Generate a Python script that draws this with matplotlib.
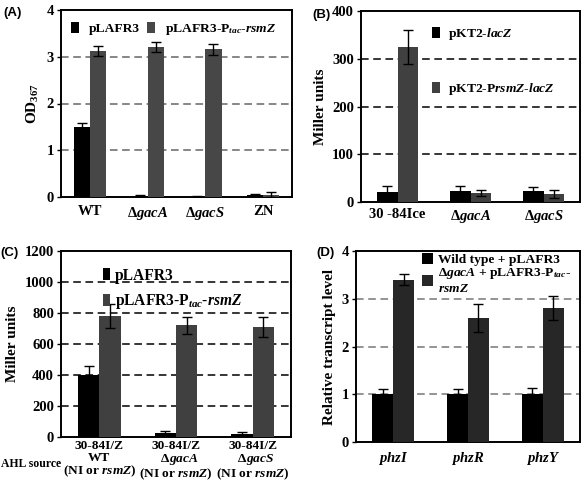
import matplotlib
matplotlib.use("Agg")
import matplotlib.pyplot as plt
import numpy as np

plt.rcParams['font.family'] = ['Liberation Serif', 'DejaVu Serif']
plt.rcParams['font.weight'] = 'bold'
plt.rcParams['axes.labelweight'] = 'bold'
plt.rcParams['mathtext.fontset'] = 'custom'
plt.rcParams['mathtext.rm'] = 'Liberation Serif:bold'
plt.rcParams['mathtext.it'] = 'Liberation Serif:italic:bold'
plt.rcParams['mathtext.bf'] = 'Liberation Serif:bold'

# ---- data ----
a_cats = ['WT', r'Δ$\mathit{gacA}$', r'Δ$\mathit{gacS}$', 'ZN']
a_ctrl = [1.50, 0.03, 0.01, 0.04]
a_ctrl_err = [0.08, 0.02, 0.01, 0.02]
a_rsmz = [3.12, 3.21, 3.16, 0.05]
a_rsmz_err = [0.10, 0.10, 0.12, 0.05]

b_cats = ['30 -84Ice', r'Δ$\mathit{gacA}$', r'Δ$\mathit{gacS}$']
b_lacz = [20, 22, 24]
b_lacz_err = [13, 12, 7]
b_prsmz = [325, 19, 17]
b_prsmz_err = [35, 7, 9]

c_cats = ['30-84I/Z\nWT\n(NI or $\\mathit{rsmZ}$)',
          '30-84I/Z\n  Δ$\\mathit{gacA}$\n(NI or $\\mathit{rsmZ}$)',
          '30-84I/Z\n  Δ$\\mathit{gacS}$\n(NI or $\\mathit{rsmZ}$)']
c_ctrl = [400, 28, 22]
c_ctrl_err = [55, 12, 10]
c_rsmz = [780, 722, 710]
c_rsmz_err = [75, 55, 65]

d_cats = [r'$\mathit{phzI}$', r'$\mathit{phzR}$', r'$\mathit{phzY}$']
d_wt = [1.0, 1.0, 1.0]
d_wt_err = [0.12, 0.10, 0.14]
d_gaca = [3.4, 2.6, 2.8]
d_gaca_err = [0.12, 0.30, 0.25]

W, H = 583, 488
fig = plt.figure(figsize=(W / 100, H / 100), dpi=100)


def box(l, t, r, b):
    return fig.add_axes([l / W, 1 - b / H, (r - l) / W, (b - t) / H])


def draw(ax, cats, v1, e1, v2, e2, c2, ymax, step, gridc, labels, ylabel,
         fs=10.5):
    x = np.arange(len(cats))
    bw = 0.28
    ax.bar(x - bw / 2, v1, bw, color='black', label=labels[0], zorder=3)
    ax.bar(x + bw / 2, v2, bw, color=c2, label=labels[1], zorder=3)
    ax.errorbar(x - bw / 2, v1, yerr=e1, fmt='none', ecolor='black',
                elinewidth=1, capsize=3.5, capthick=1, zorder=4)
    ax.errorbar(x + bw / 2, v2, yerr=e2, fmt='none', ecolor='black',
                elinewidth=1, capsize=3.5, capthick=1, zorder=4)
    ax.set_xlim(-0.5, len(cats) - 0.5)
    ax.set_ylim(0, ymax)
    ticks = np.arange(0, ymax + step / 2, step)
    ax.set_yticks(ticks)
    for t in ticks[1:-1]:
        ax.axhline(t, color=gridc, ls=(0, (5, 3)), lw=1.1, zorder=1)
    ax.set_xticks(x)
    ax.set_xticklabels(cats, fontsize=fs)
    ax.tick_params(axis='x', length=0, pad=6)
    ax.tick_params(axis='y', length=3, width=1, labelsize=10.5, pad=2)
    for s in ax.spines.values():
        s.set_linewidth(1.4)
    ax.set_ylabel(ylabel, fontsize=11, labelpad=4)
    return ax


def panel(x, y, s, ha='left'):
    fig.text(x / W, 1 - y / H, s, fontsize=9.5, va='center', ha=ha,
             family='Liberation Sans', weight='bold')


# (A)
axA = box(61, 10, 292, 197)
draw(axA, a_cats, a_ctrl, a_ctrl_err, a_rsmz, a_rsmz_err, '#474747', 4, 1,
     '#666666', ['pLAFR3', r'pLAFR3-P$_{\mathit{tac}}$-$\mathit{rsmZ}$'],
     r'OD$_{367}$')
axA.legend(loc='upper left', ncol=2, frameon=False, fontsize=9.7,
           handlelength=0.6, handleheight=0.9, handletextpad=0.7,
           columnspacing=0.6, bbox_to_anchor=(-0.01, 1.0))
panel(3, 13, '(A)')

# (B)
axB = box(361, 11, 580, 202)
draw(axB, b_cats, b_lacz, b_lacz_err, b_prsmz, b_prsmz_err, '#404040', 400,
     100, 'black', [r'pKT2-$\mathit{lacZ}$',
                    r'pKT2-P$\mathit{rsmZ}$-$\mathit{lacZ}$'], 'Miller units')
axB.tick_params(axis='x', pad=4)
axB.legend(loc='upper left', frameon=False, fontsize=9.7,
           handlelength=0.6, handleheight=0.9, handletextpad=0.6,
           labelspacing=2.9, bbox_to_anchor=(0.27, 0.985))
panel(312, 15, '(B)')

# (C)
axC = box(61, 251, 291, 437)
draw(axC, c_cats, c_ctrl, c_ctrl_err, c_rsmz, c_rsmz_err, '#404040', 1200,
     200, 'black', ['pLAFR3', r'pLAFR3-P$_{\mathit{tac}}$-$\mathit{rsmZ}$'],
     'Miller units', fs=9.6)
axC.tick_params(axis='x', pad=2)
for lab in axC.get_xticklabels():
    lab.set_linespacing(0.98)
axC.legend(loc='upper left', frameon=False, fontsize=11.2,
           handlelength=0.5, handleheight=0.8, handletextpad=0.3,
           labelspacing=0.55, bbox_to_anchor=(0.12, 0.985))
panel(0, 253, '(C)')
fig.text(1 / W, 1 - 464 / H, 'AHL source', fontsize=8.5, va='center',
         ha='left')

# (D)
axD = box(356, 251, 580, 442)
draw(axD, d_cats, d_wt, d_wt_err, d_gaca, d_gaca_err, '#272727', 4, 1,
     '#777777', ['Wild type + pLAFR3',
                 'Δ$\\mathit{gacA}$ + pLAFR3-P$_{\\mathit{tac}}$-\n'
                 '$\\mathit{rsmZ}$'], 'Relative transcript level')
axD.legend(loc='upper left', frameon=False, fontsize=9.7,
           handlelength=0.8, handleheight=0.9, handletextpad=0.4,
           labelspacing=0.0, bbox_to_anchor=(0.24, 1.055))
panel(335, 253, '(D)', ha='right')

fig.savefig('out.png', dpi=100)
